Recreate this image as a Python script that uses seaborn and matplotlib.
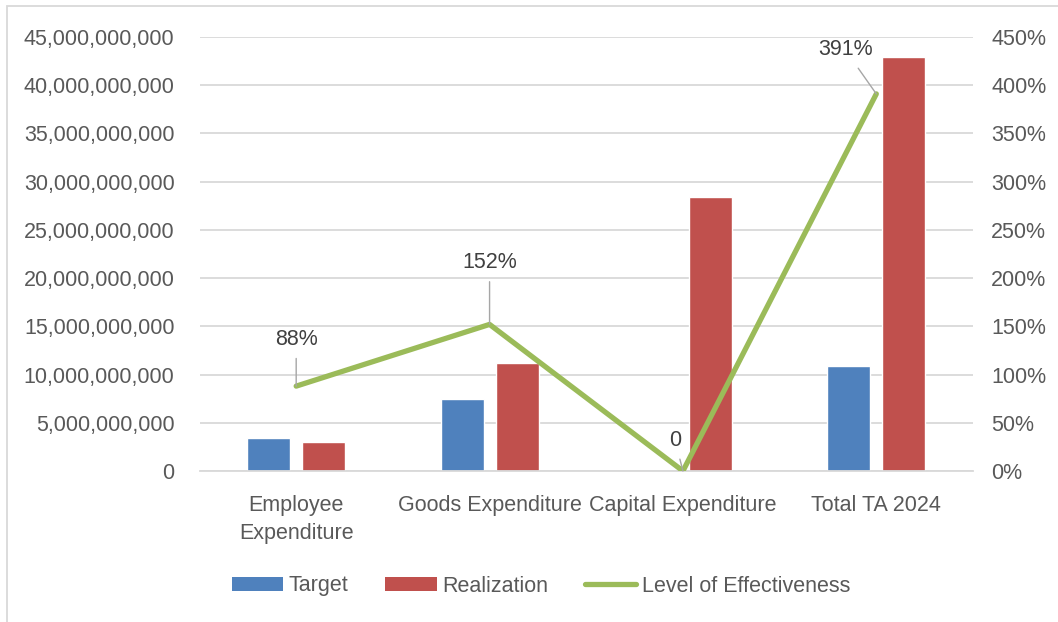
import matplotlib
matplotlib.use("Agg")
import matplotlib.pyplot as plt
from matplotlib.patches import Patch, Rectangle
from matplotlib.lines import Line2D
from matplotlib.ticker import FuncFormatter, MultipleLocator
import pandas as pd
import seaborn as sns

# Budget categories and amounts (IDR)
categories = ["Employee\nExpenditure", "Goods Expenditure", "Capital Expenditure", "Total TA 2024"]
target = [3.42e9, 7.43e9, 0.0, 10.89e9]
realization = [2.97e9, 11.17e9, 28.44e9, 42.93e9]
effectiveness = [0.88, 1.52, 0.0, 3.91]

series_names = ["Target", "Realization"]
bar_colors = ["#4F81BD", "#C0504D"]
line_color = "#9BBB59"
tick_color = "#595959"
label_color = "#404040"
grid_color = "#D9D9D9"
fs = 15.5

sns.set_theme(style="white")
plt.rcParams["font.family"] = ["Liberation Sans", "DejaVu Sans"]
plt.rcParams["font.size"] = fs

bars = pd.DataFrame({
    "Category": categories * 2,
    "Series": [series_names[0]] * len(categories) + [series_names[1]] * len(categories),
    "Amount": target + realization,
})
eff = pd.DataFrame({"Category": categories, "Effectiveness": effectiveness})

fig = plt.figure(figsize=(10.58, 6.22), dpi=100)
ax = fig.add_axes([199.5 / 1058, 1 - 471 / 622, (973 - 199.5) / 1058, (471 - 37) / 622])

sns.barplot(data=bars, x="Category", y="Amount", hue="Series", order=categories,
            hue_order=series_names, palette=bar_colors, width=0.57, gap=0.22,
            saturation=1, legend=False, ax=ax, zorder=2)

ax.set_ylim(0, 45e9)
ax.yaxis.set_major_locator(MultipleLocator(5e9))
ax.yaxis.set_major_formatter(FuncFormatter(lambda v, _: f"{v:,.0f}"))
ax.set_xlabel("")
ax.set_ylabel("")
ax.grid(axis="y", color=grid_color, lw=1.3, zorder=0)
ax.set_axisbelow(True)
for side in ["top", "right", "left"]:
    ax.spines[side].set_visible(False)
ax.spines["bottom"].set_color(grid_color)
ax.spines["bottom"].set_linewidth(1.3)
ax.tick_params(axis="y", length=0, pad=18, colors=tick_color, labelsize=fs)
ax.tick_params(axis="x", length=0, pad=17, colors=tick_color, labelsize=fs)
for lbl in ax.get_xticklabels():
    lbl.set_linespacing(1.45)

ax2 = ax.twinx()
sns.pointplot(data=eff, x="Category", y="Effectiveness", order=categories,
              color=line_color, markers="", errorbar=None, ax=ax2, lw=3.8)
ax2.set_ylim(0, 4.5)
ax2.set_xlim(-0.5, 3.5)
ax.set_xlim(-0.5, 3.5)
ax2.yaxis.set_major_locator(MultipleLocator(0.5))
ax2.yaxis.set_major_formatter(FuncFormatter(lambda v, _: f"{v * 100:.0f}%"))
ax2.set_xlabel("")
ax2.set_ylabel("")
for side in ["top", "right", "left", "bottom"]:
    ax2.spines[side].set_visible(False)
ax2.tick_params(axis="y", length=0, pad=13, colors=tick_color, labelsize=fs)
ax2.grid(False)

# Data labels with leader lines
offsets = [(0, 47), (0, 62), (-8, 31), (-31, 44)]
for i, (v, off) in enumerate(zip(effectiveness, offsets)):
    text = "0" if v == 0 else f"{v * 100:.0f}%"
    ax2.annotate(text, xy=(i, v), xytext=off, textcoords="offset pixels",
                 ha="center", va="center", color=label_color, fontsize=fs,
                 arrowprops=dict(arrowstyle="-", color="#A6A6A6", lw=1,
                                 shrinkA=4, shrinkB=0))

handles = [
    Patch(facecolor=bar_colors[0], edgecolor="none", label=series_names[0]),
    Patch(facecolor=bar_colors[1], edgecolor="none", label=series_names[1]),
    Line2D([], [], color=line_color, lw=3.8, label="Level of Effectiveness"),
]
leg = fig.legend(handles=handles, loc="center", bbox_to_anchor=(541 / 1058, 1 - 586 / 622),
                 ncol=3, frameon=False, fontsize=fs, handlelength=2.4, handleheight=0.65,
                 handletextpad=0.25, columnspacing=1.7)
for t in leg.get_texts():
    t.set_color(tick_color)

# Chart frame
fig.patches.append(Rectangle((7 / 1058, -0.2), 1.2, 0.2 + 1 - 6 / 622,
                             transform=fig.transFigure, fill=False,
                             edgecolor=grid_color, lw=1.3))

fig.savefig("out.png", dpi=100, facecolor="white")
